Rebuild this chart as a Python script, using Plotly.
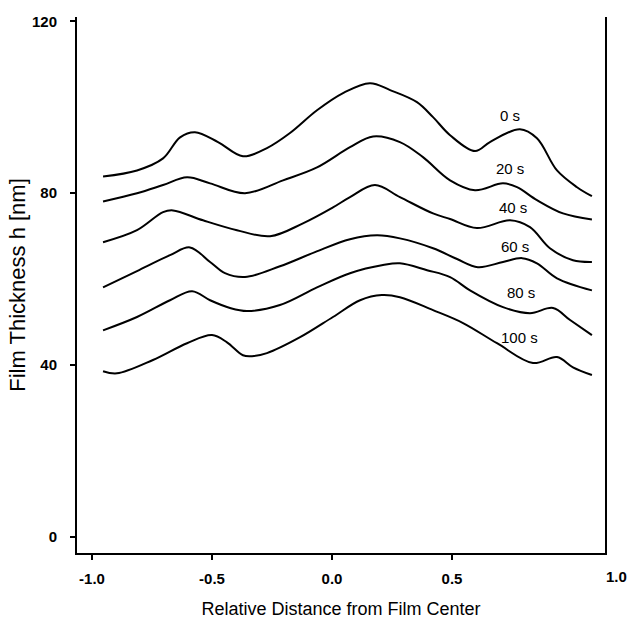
import plotly.graph_objects as go

x_0s = [-0.954, -0.8125, -0.704, -0.633, -0.571, -0.475, -0.371, -0.271, -0.175, -0.0625, 0.046, 0.158,
        0.242, 0.354, 0.421, 0.492, 0.596, 0.658, 0.783, 0.854, 0.9375, 1.021, 1.083]
y_0s = [83.9, 85.3, 88.1, 93.0, 94.2, 91.9, 88.6, 90.5, 94.0, 99.3, 103.3, 105.6,
        104.0, 101.2, 97.7, 93.5, 89.8, 91.9, 94.9, 92.8, 85.3, 81.4, 79.3]

x_20s = [-0.954, -0.8125, -0.704, -0.604, -0.508, -0.3625, -0.204, -0.0625, 0.075, 0.171, 0.283,
         0.379, 0.492, 0.596, 0.7125, 0.771, 0.854, 0.9625, 1.083]
y_20s = [78.1, 80.0, 81.9, 83.7, 82.3, 80.0, 83.0, 86.0, 90.7, 93.2, 91.9,
         88.4, 83.0, 80.7, 82.3, 81.4, 78.4, 75.3, 73.9]

x_40s = [-0.954, -0.8125, -0.704, -0.6625, -0.5375, -0.396, -0.258, -0.121, 0.004, 0.075, 0.179,
         0.283, 0.421, 0.492, 0.604, 0.742, 0.825, 0.908, 1.004, 1.083]
y_40s = [68.6, 71.4, 75.6, 76.0, 73.7, 71.4, 70.0, 73.0, 76.7, 79.1, 81.9,
         79.1, 75.3, 74.0, 71.9, 73.7, 72.1, 67.2, 64.4, 64.0]

x_60s = [-0.954, -0.8125, -0.675, -0.592, -0.508, -0.446, -0.3625, -0.217, -0.071, 0.075, 0.1875,
         0.283, 0.421, 0.521, 0.608, 0.7125, 0.792, 0.854, 0.9375, 1.083]
y_60s = [58.1, 61.9, 65.6, 67.4, 64.0, 61.4, 60.5, 63.0, 66.3, 69.3, 70.2,
         69.5, 67.2, 64.7, 62.8, 64.0, 64.9, 63.7, 60.2, 57.4]

x_80s = [-0.954, -0.8125, -0.675, -0.583, -0.508, -0.425, -0.354, -0.217, -0.0625, 0.075, 0.2125,
         0.283, 0.396, 0.492, 0.575, 0.7125, 0.825, 0.921, 0.992, 1.083]
y_80s = [48.1, 51.2, 55.1, 57.2, 55.1, 53.3, 52.6, 54.0, 58.1, 61.4, 63.3,
         63.7, 62.1, 60.5, 57.4, 53.5, 52.1, 53.3, 50.5, 47.0]

x_100s = [-0.954, -0.896, -0.746, -0.604, -0.5, -0.4375, -0.371, -0.333, -0.271, -0.133, 0.004,
          0.117, 0.208, 0.283, 0.421, 0.546, 0.6875, 0.8375, 0.9375, 1.004, 1.083]
y_100s = [38.6, 38.1, 41.2, 45.1, 47.0, 45.3, 42.3, 42.1, 42.8, 46.5, 51.2,
          55.1, 56.3, 55.8, 52.8, 49.8, 45.1, 40.5, 41.9, 39.5, 37.7]

series_names = ["0 s", "20 s", "40 s", "60 s", "80 s", "100 s"]
series_x = [x_0s, x_20s, x_40s, x_60s, x_80s, x_100s]
series_y = [y_0s, y_20s, y_40s, y_60s, y_80s, y_100s]

# label anchor positions (data coords)
label_x = [0.742, 0.742, 0.754, 0.7625, 0.7875, 0.783]
label_y = [98.1, 85.8, 76.7, 67.7, 57.0, 46.5]

x_tickvals = [-1.0, -0.5, 0.0, 0.5]
x_ticktext = ["-1.0", "-0.5", "0.0", "0.5"]
y_tickvals = [0, 40, 80, 120]
y_ticktext = ["0", "40", "80", "120"]

FONT = "Arial, Liberation Sans, Helvetica, sans-serif"

fig = go.Figure()
for name, xs, ys in zip(series_names, series_x, series_y):
    fig.add_trace(go.Scatter(x=xs, y=ys, mode="lines", name=name,
                             line=dict(color="black", width=2, shape="spline", smoothing=1.0),
                             showlegend=False, hoverinfo="skip"))

for name, lx, ly in zip(series_names, label_x, label_y):
    fig.add_annotation(x=lx, y=ly, text=name, showarrow=False,
                       font=dict(family=FONT, size=15, color="black"),
                       xanchor="center", yanchor="middle")

# the "1.0" label sits beyond the right border, as in the original
fig.add_annotation(x=1.0227, y=-0.043, xref="paper", yref="paper", text="<b>1.0</b>",
                   showarrow=False, font=dict(family=FONT, size=15, color="black"),
                   xanchor="center", yanchor="middle")

fig.update_layout(
    width=629, height=621,
    margin=dict(l=77, r=24, t=17, b=68),
    paper_bgcolor="white", plot_bgcolor="white",
    font=dict(family=FONT, color="black"),
    xaxis=dict(range=[-1.0625, 1.1375], tickvals=x_tickvals, ticktext=[f"<b>{t}</b>" for t in x_ticktext],
               showgrid=False, zeroline=False, showline=True, linecolor="black", linewidth=2,
               automargin=False,
               ticks="outside", ticklen=5, tickwidth=2, tickcolor="black",
               tickfont=dict(family=FONT, size=15, color="black"), ticklabelstandoff=6,
               title=dict(text="Relative Distance from Film Center",
                          font=dict(family=FONT, size=18, color="black"), standoff=16)),
    yaxis=dict(range=[-3.7, 121], tickvals=y_tickvals, ticktext=[f"<b>{t}</b>" for t in y_ticktext],
               showgrid=False, zeroline=False, showline=True, linecolor="black", linewidth=2,
               mirror=True, automargin=False,
               ticks="outside", ticklen=5, tickwidth=2, tickcolor="black",
               tickfont=dict(family=FONT, size=15, color="black"), ticklabelstandoff=10,
               title=dict(text="Film Thickness h [nm]",
                          font=dict(family=FONT, size=22, color="black"), standoff=0)),
)

fig.write_html("out.html")
